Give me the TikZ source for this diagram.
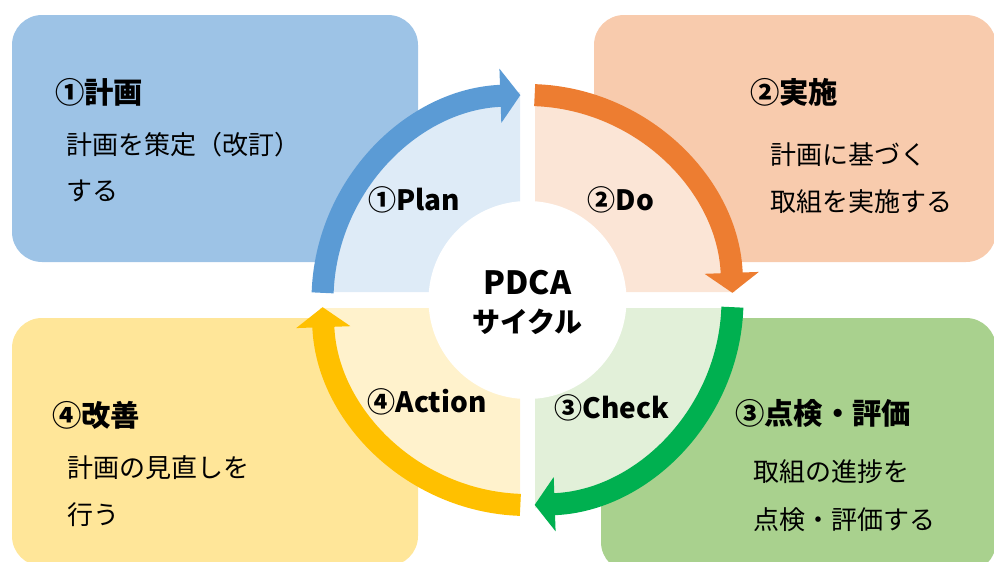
\documentclass[tikz,border=0pt]{standalone}
\usepackage{fontspec}
\setmainfont{Noto Sans CJK JP}
\usepackage{xcolor}
\usepackage{tikz}
\usetikzlibrary{arrows.meta}
\definecolor{planbox}{HTML}{9DC3E6}
\definecolor{planarc}{HTML}{5B9BD5}
\definecolor{planbg}{HTML}{DEEBF7}
\definecolor{dobox}{HTML}{F8CBAD}
\definecolor{doarc}{HTML}{ED7D31}
\definecolor{dobg}{HTML}{FBE5D6}
\definecolor{checkbox}{HTML}{A9D18E}
\definecolor{checkarc}{HTML}{00B050}
\definecolor{checkbg}{HTML}{E2F0D9}
\definecolor{actbox}{HTML}{FFE699}
\definecolor{actarc}{HTML}{FFC000}
\definecolor{actbg}{HTML}{FFF2CC}

\begin{document}
\begin{tikzpicture}[
  x=0.75pt, y=-0.75pt,
  card/.style={rounded corners=22.5pt},
  head/.style={anchor=west, inner sep=0pt, font=\fontsize{22}{26}\selectfont\bfseries},
  body/.style={anchor=west, inner sep=0pt, font=\fontsize{19.5}{24}\selectfont},
  phase/.style={inner sep=0pt, font=\fontsize{21}{25}\selectfont\bfseries},
  cyc/.style={line width=16.5pt, -{Triangle[length=15pt,width=40pt]}}
]
  \useasboundingbox (0,0) rectangle (994,561);
  \clip (0,0) rectangle (994,561);

  % 外側の枠
  \fill[planbox, card] (12,15) rectangle (418,262);
  \fill[dobox, card] (594,15) rectangle (996,262);
  \fill[checkbox, card] (601,318) rectangle (996,572);
  \fill[actbox, card] (12,318) rectangle (418,566);

  % 中央の扇形
  \fill[planbg] (520,292) -- (320,292) arc[start angle=180, end angle=270, radius=200] -- cycle;
  \fill[dobg] (535,292) -- (535,92) arc[start angle=270, end angle=360, radius=200] -- cycle;
  \fill[checkbg] (535,308) -- (735,308) arc[start angle=0, end angle=90, radius=200] -- cycle;
  \fill[actbg] (520,308) -- (520,508) arc[start angle=90, end angle=180, radius=200] -- cycle;
  \fill[white] (527.5,300) circle[radius=99];

  % 矢印
  \coordinate (c) at (527.5,300);
  \draw[cyc, planarc] ([shift={(182:205)}]c) arc[start angle=182, end angle=268, radius=205];
  \draw[cyc, doarc] ([shift={(272:205)}]c) arc[start angle=272, end angle=358, radius=205];
  \draw[cyc, checkarc] ([shift={(2:205)}]c) arc[start angle=2, end angle=88, radius=205];
  \draw[cyc, actarc] ([shift={(92:205)}]c) arc[start angle=92, end angle=178, radius=205];

  % 円の中の文字
  \node[phase, font=\fontsize{24}{28}\selectfont\bfseries] (pdca) at (527.5,283) {PDCA};
  \node[phase] (cycle) at (527.5,322) {サイクル};
  \node[phase] (plan) at (414,200) {①Plan};
  \node[phase] (do) at (621,200) {②Do};
  \node[phase] (check) at (612,408) {③Check};
  \node[phase] (act) at (427,402) {④Action};

  % 枠の中の文字
  \node[head] (planhead) at (55,92) {①計画};
  \node[body] (plantext1) at (66,145) {計画を策定（改訂）};
  \node[body] (plantext2) at (66,191) {する};

  \node[head] (dohead) at (750,92) {②実施};
  \node[body] (dotext1) at (770,155) {計画に基づく};
  \node[body] (dotext2) at (770,202) {取組を実施する};

  \node[head] (checkhead) at (735,413) {③点検・評価};
  \node[body] (checktext1) at (753,472) {取組の進捗を};
  \node[body] (checktext2) at (753,520) {点検・評価する};

  \node[head] (acthead) at (52,415) {④改善};
  \node[body] (acttext1) at (67,468) {計画の見直しを};
  \node[body] (acttext2) at (67,515) {行う};
\end{tikzpicture}
\end{document}
